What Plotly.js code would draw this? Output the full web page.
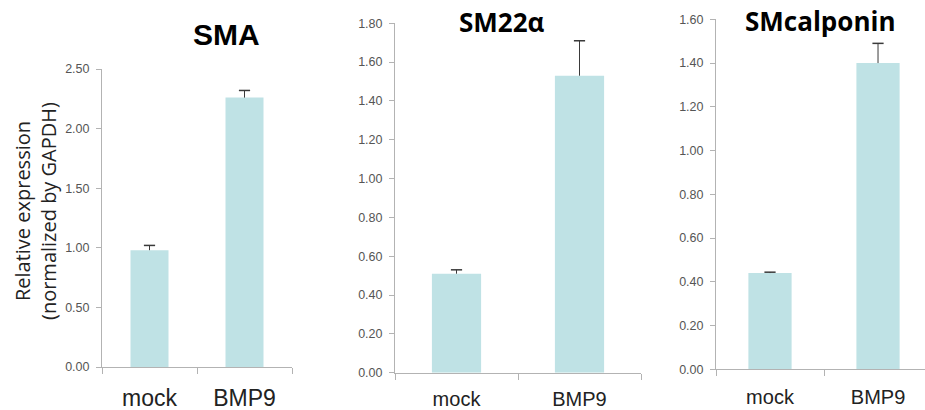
<!DOCTYPE html>
<html>
<head>
<meta charset="utf-8">
<script src="https://cdn.plot.ly/plotly-3.0.1.min.js"></script>
<style>html,body{margin:0;padding:0;background:#fff;}#chart{width:925px;height:410px;}</style>
</head>
<body>
<div id="chart"></div>
<script>
const categories = ["mock", "BMP9"];
const panelTitles = ["SMA", "SM22α", "SMcalponin"];
const smaValues = [0.98, 2.26];
const smaErrors = [0.04, 0.06];
const sm22Values = [0.51, 1.53];
const sm22Errors = [0.02, 0.18];
const calponinValues = [0.44, 1.40];
const calponinErrors = [0.004, 0.09];
const yTitle = "Relative expression<br>(normalized by GAPDH)";

const barColor = "#bfe2e5";
const errColor = "#3a3a3a";
function panelTraces(vals, errs, ax) {
  const sx = [], sy = [];
  categories.forEach((c, i) => { sx.push(c, c, null); sy.push(vals[i], vals[i] + errs[i], null); });
  return [
    {type: "bar", x: categories, y: vals, width: 0.4, xaxis: "x" + ax, yaxis: "y" + ax,
     marker: {color: barColor}, hoverinfo: "x+y", showlegend: false},
    {type: "scatter", mode: "lines", x: sx, y: sy, xaxis: "x" + ax, yaxis: "y" + ax,
     line: {color: errColor, width: 1}, hoverinfo: "skip", showlegend: false, cliponaxis: false},
    {type: "scatter", mode: "markers", x: categories, y: vals.map((v, i) => v + errs[i]),
     xaxis: "x" + ax, yaxis: "y" + ax, cliponaxis: false,
     marker: {symbol: "line-ew-open", size: 8, color: errColor, line: {color: errColor, width: 1.5}},
     hoverinfo: "skip", showlegend: false}
  ];
}
const data = [].concat(
  panelTraces(smaValues, smaErrors, ""),
  panelTraces(sm22Values, sm22Errors, "2"),
  panelTraces(calponinValues, calponinErrors, "3")
);

const W = 925, H = 410;
function xa(l, r, range, fs, standoff) {
  return {domain: [l / W, Math.min(1, r / W)], range: range, type: "category",
    showline: true, linecolor: "#b3b3b3", linewidth: 1, ticks: "outside",
    tickson: "boundaries", ticklen: 6, tickcolor: "#b3b3b3", showgrid: false,
    zeroline: false, fixedrange: true, ticklabelstandoff: standoff,
    tickfont: {family: "Liberation Sans, Arial, sans-serif", size: fs, color: "#222"}};
}
function ya(bottomPx, topPx, range, dtick, anchor) {
  return {domain: [(H - bottomPx) / H, (H - topPx) / H], range: range, dtick: dtick,
    tickformat: ".2f", showline: true, linecolor: "#b3b3b3", linewidth: 1,
    ticks: "outside", ticklen: 5, tickcolor: "#b3b3b3", showgrid: false,
    zeroline: false, fixedrange: true, anchor: anchor, ticklabelstandoff: 4,
    tickfont: {family: "Liberation Sans, Arial, sans-serif", size: 12.5, color: "#555"}};
}

const layout = {
  width: W, height: H, margin: {l: 0, r: 0, t: 0, b: 0},
  paper_bgcolor: "#fff", plot_bgcolor: "#fff", showlegend: false,
  xaxis: Object.assign(xa(102, 292, [-0.5, 1.5], 23, 10), {anchor: "y"}),
  yaxis: ya(367, 69, [0, 2.5], 0.5, "x"),
  xaxis2: Object.assign(xa(395, 641, [-0.5, 1.5], 20, 8), {anchor: "y2"}),
  yaxis2: ya(372.7, 23.3, [0, 1.8], 0.2, "x2"),
  xaxis3: Object.assign(xa(716, 925, [-0.5, 1.435], 20, 10), {anchor: "y3"}),
  yaxis3: ya(369.3, 19.3, [0, 1.6], 0.2, "x3"),
  annotations: [
    {text: panelTitles[0], xref: "paper", yref: "paper", x: 226 / W, y: 1 - 35 / H,
     showarrow: false, xanchor: "center", yanchor: "middle",
     font: {family: "Liberation Sans, Arial, sans-serif", size: 30, color: "#000", weight: "bold"}},
    {text: panelTitles[1], xref: "paper", yref: "paper", x: 502 / W, y: 1 - 22 / H,
     showarrow: false, xanchor: "center", yanchor: "middle",
     font: {family: "Open Sans, sans-serif", size: 26, color: "#000", weight: "bold"}},
    {text: panelTitles[2], xref: "paper", yref: "paper", x: 820 / W, y: 1 - 21 / H,
     showarrow: false, xanchor: "center", yanchor: "middle",
     font: {family: "Open Sans, sans-serif", size: 26, color: "#000", weight: "bold"}},
    {text: yTitle, xref: "paper", yref: "paper", x: 35 / W, y: 1 - 211 / H,
     showarrow: false, xanchor: "center", yanchor: "middle", textangle: -90,
     font: {family: "Open Sans, sans-serif", size: 20, color: "#222"}}
  ]
};

Plotly.newPlot("chart", data, layout, {displayModeBar: false, staticPlot: true});
</script>
</body>
</html>
